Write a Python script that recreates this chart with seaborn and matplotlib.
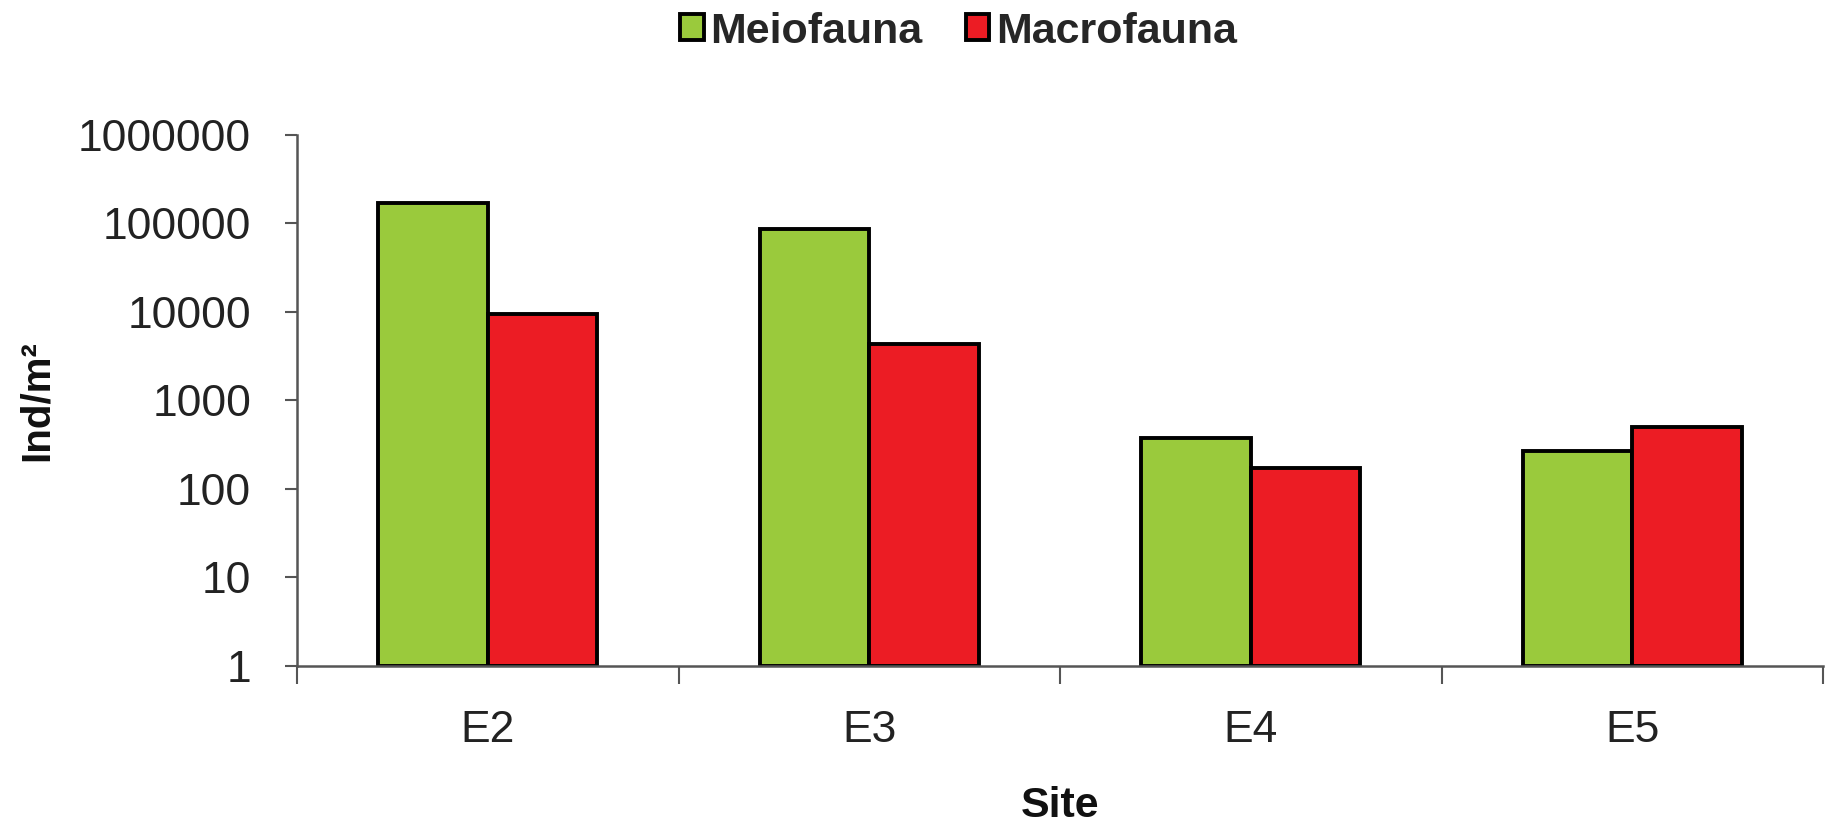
import matplotlib
matplotlib.use('agg')
import matplotlib.pyplot as plt
from matplotlib.ticker import FixedLocator, NullLocator
import seaborn as sns
import pandas as pd

sites = ['E2', 'E3', 'E4', 'E5']
groups = ['Meiofauna', 'Macrofauna']
meiofauna = [170000, 85000, 380, 265]
macrofauna = [9500, 4300, 172, 500]
colors = ['#9ACA3C', '#EC1C24']
yticks = [1, 10, 100, 1000, 10000, 100000, 1000000]

data = pd.DataFrame({
    'Site': sites * 2,
    'group': [groups[0]] * len(sites) + [groups[1]] * len(sites),
    'value': meiofauna + macrofauna,
})

sns.set_style('white')
plt.rcParams['font.family'] = ['Liberation Sans', 'DejaVu Sans']

fig = plt.figure(figsize=(18.27, 8.34), dpi=100)
ax = fig.add_axes([0.1626, 0.2014, 0.8352, 0.6372])
ax.set_yscale('log')

sns.barplot(data=data, x='Site', y='value', hue='group', palette=colors,
            width=0.575, edgecolor='black', linewidth=2.8, saturation=1, ax=ax)

# bars start at the bottom of the log axis (1) instead of 0
for p in ax.patches:
    top = p.get_y() + p.get_height()
    p.set_y(1)
    p.set_height(top - 1)

ax.set_ylim(1, 1000000)
ax.set_xlim(-0.5, 3.5)
ax.yaxis.set_major_locator(FixedLocator(yticks))
ax.yaxis.set_minor_locator(NullLocator())
ax.set_yticklabels([str(t) for t in yticks], fontsize=32, color='#222222')

# category labels at the centres, tick marks between the categories
ax.set_xticks(range(len(sites)))
ax.set_xticklabels(sites, fontsize=32, color='#222222')
ax.set_xticks([-0.5, 0.5, 1.5, 2.5, 3.5], minor=True)
ax.tick_params(axis='x', which='major', length=0, pad=32)
ax.tick_params(axis='x', which='minor', bottom=True, length=13, width=1.5,
               color='#555555', direction='out')
ax.tick_params(axis='y', which='major', left=True, length=9, width=1.5,
               color='#555555', direction='out', pad=24)

for side in ['top', 'right']:
    ax.spines[side].set_visible(False)
for side in ['left', 'bottom']:
    ax.spines[side].set_color('#555555')
    ax.spines[side].set_linewidth(1.8)

ax.set_xlabel('Site', fontsize=31, fontweight='bold', color='#111111')
ax.set_ylabel('Ind/m²', fontsize=29, fontweight='bold', color='#111111')
ax.xaxis.set_label_coords(0.5, -0.226)
ax.yaxis.set_label_coords(-0.158, 0.5)

handles, labels = ax.get_legend_handles_labels()
ax.get_legend().remove()
fig.legend(handles, labels, loc='center', bbox_to_anchor=(0.5246, 0.962), ncol=2,
           frameon=False, prop={'size': 31, 'weight': 'bold'},
           handlelength=0.55, handleheight=0.55, handletextpad=0.15,
           columnspacing=1.0)

plt.savefig('out.png', dpi=100)
